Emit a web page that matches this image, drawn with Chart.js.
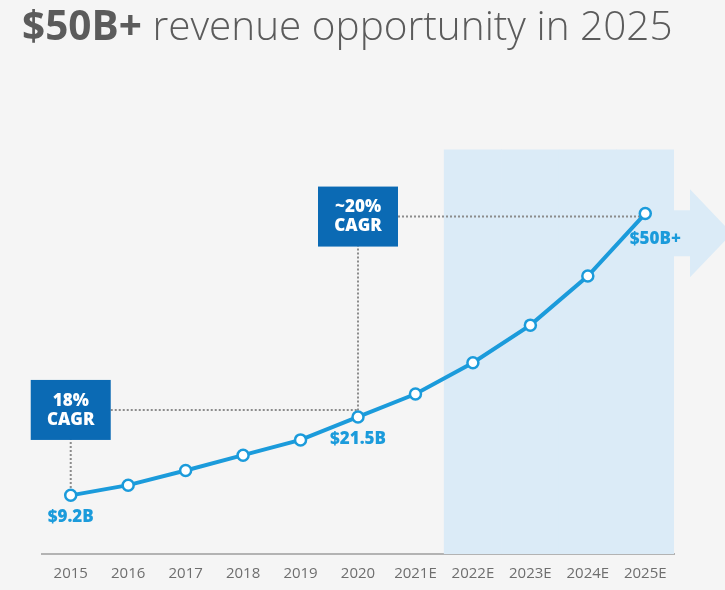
<!DOCTYPE html>
<html>
<head>
<meta charset="utf-8">
<script src="https://cdn.jsdelivr.net/npm/chart.js@4"></script>
<style>
  html, body { margin:0; padding:0; background:#f5f5f5; }
  #wrap { position:relative; width:725px; height:590px; }
  #title { position:absolute; left:22px; top:-2px; font-family:"Open Sans", sans-serif; font-size:40.5px; color:#5b5b5b; white-space:nowrap; line-height:54px; letter-spacing:0px; }
  #title b { font-weight:700; }
  #title span { font-weight:300; }
  canvas { position:absolute; left:0; top:0; }
</style>
</head>
<body>
<div id="wrap">
  <canvas id="c" width="725" height="590"></canvas>
  <div id="title"><b>$50B+</b> <span>revenue opportunity in 2025</span></div>
</div>
<script>
const years = ['2015','2016','2017','2018','2019','2020','2021E','2022E','2023E','2024E','2025E'];
const revenue = [9.2, 10.8, 13.1, 15.5, 17.9, 21.5, 25.1, 30.0, 35.9, 43.6, 53.4];
const forecastBand = [null, null, null, null, null, null, null, 63.4, 63.4, 63.4, 63.4];
const valueLabels = ['$9.2B', null, null, null, null, '$21.5B', null, null, null, null, '$50B+'];
const cagrNotes = [
  { lines: ['18%', 'CAGR'], from: 0, to: 5 },
  { lines: ['~20%', 'CAGR'], from: 5, to: 10 }
];

const BLUE = '#1b9bdb';
const BOX = '#0b6ab4';
const BAND = '#dbebf7';

const annotations = {
  id: 'annotations',
  afterDatasetDraw(chart, args) {
    if (args.index !== 1) return; // after band, before line
    const ctx = chart.ctx, x = chart.scales.x, y = chart.scales.y;
    ctx.save();
    ctx.strokeStyle = '#8c8c8c';
    ctx.lineWidth = 2;
    ctx.setLineDash([2, 2]);
    cagrNotes.forEach((n, i) => {
      const bx = x.getPixelForValue(n.from);
      const py = y.getPixelForValue(revenue[n.from]);
      const ly = y.getPixelForValue(revenue[n.to]) + (i === 0 ? -7 : 3);
      const ex = x.getPixelForValue(n.to);
      ctx.beginPath();
      ctx.moveTo(bx, ly);
      ctx.lineTo(ex, ly);
      ctx.stroke();
      ctx.beginPath();
      ctx.moveTo(bx, ly);
      ctx.lineTo(bx, py);
      ctx.stroke();
    });
    ctx.restore();
  },
  afterDatasetsDraw(chart) {
    const ctx = chart.ctx, x = chart.scales.x, y = chart.scales.y;
    ctx.save();
    cagrNotes.forEach((n, i) => {
      const bx = x.getPixelForValue(n.from);
      const ly = y.getPixelForValue(revenue[n.to]) + (i === 0 ? -7 : 3);
      ctx.fillStyle = BOX;
      ctx.fillRect(bx - 40, ly - 30, 80, 60);
      ctx.fillStyle = '#ffffff';
      ctx.font = '800 17px "Open Sans", sans-serif';
      ctx.textAlign = 'center';
      ctx.textBaseline = 'middle';
      ctx.fillText(n.lines[0], bx, ly - 9);
      ctx.fillText(n.lines[1], bx, ly + 10);
    });
    ctx.fillStyle = BLUE;
    ctx.font = '800 17px "Open Sans", sans-serif';
    ctx.textAlign = 'center';
    ctx.textBaseline = 'middle';
    valueLabels.forEach((t, i) => {
      if (!t) return;
      const px = x.getPixelForValue(i);
      const py = y.getPixelForValue(revenue[i]);
      if (i === revenue.length - 1) ctx.fillText(t, px + 10, py + 26);
      else ctx.fillText(t, px, py + 22);
    });
    ctx.restore();
  },
  beforeDatasetsDraw(chart) {
    const ctx = chart.ctx, area = chart.chartArea, y = chart.scales.y;
    const cy = y.getPixelForValue(50.3);
    ctx.save();
    ctx.fillStyle = BAND;
    ctx.beginPath();
    ctx.moveTo(area.right, cy - 23);
    ctx.lineTo(area.right + 16, cy - 23);
    ctx.lineTo(area.right + 16, cy - 44);
    ctx.lineTo(area.right + 58, cy);
    ctx.lineTo(area.right + 16, cy + 44);
    ctx.lineTo(area.right + 16, cy + 23);
    ctx.lineTo(area.right, cy + 23);
    ctx.closePath();
    ctx.fill();
    ctx.restore();
  }
};

new Chart(document.getElementById('c'), {
  data: {
    labels: years,
    datasets: [
      {
        type: 'line',
        data: revenue,
        borderColor: BLUE,
        borderWidth: 4,
        pointBackgroundColor: '#ffffff',
        pointBorderColor: BLUE,
        pointBorderWidth: 2.5,
        pointRadius: 5.5,
        tension: 0,
        order: 0
      },
      {
        type: 'bar',
        data: forecastBand,
        backgroundColor: BAND,
        borderWidth: 0,
        barPercentage: 1,
        categoryPercentage: 1,
        order: 1
      }
    ]
  },
  options: {
    responsive: false,
    animation: false,
    devicePixelRatio: 1,
    layout: { padding: { top: 146, left: 42, right: 51, bottom: 4 } },
    plugins: { legend: { display: false }, tooltip: { enabled: false } },
    scales: {
      x: {
        offset: true,
        grid: { display: false },
        border: { display: true, color: '#b3b3b3', width: 2 },
        ticks: { color: '#6e6e6e', font: { family: '"Open Sans", sans-serif', size: 15, weight: 400 }, padding: 3, maxRotation: 0, autoSkip: false }
      },
      y: {
        display: false,
        min: 0,
        max: 64
      }
    }
  },
  plugins: [annotations]
});
</script>
</body>
</html>
